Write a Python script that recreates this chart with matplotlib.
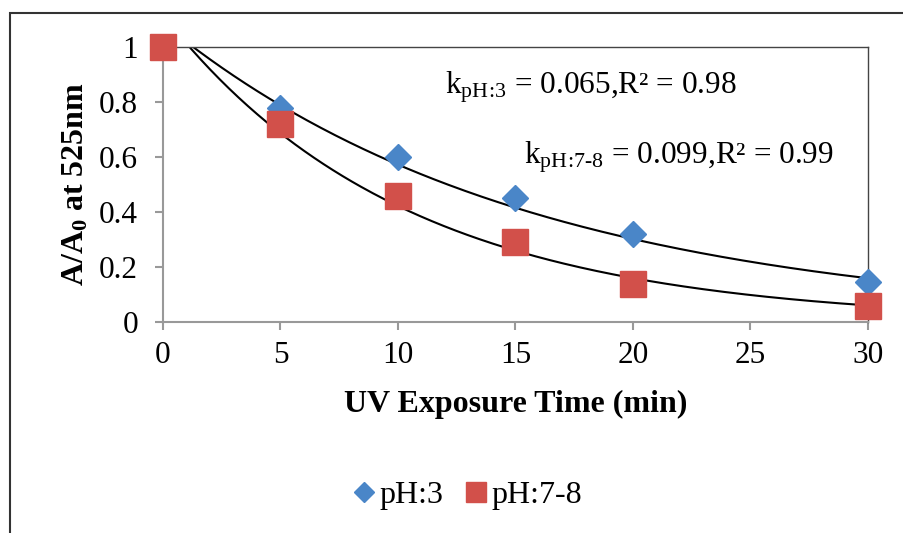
import numpy as np
import matplotlib
matplotlib.use("Agg")
from matplotlib import pyplot as plt
from matplotlib.patches import Rectangle
from matplotlib.ticker import FuncFormatter

plt.rcParams['font.family'] = ['Liberation Serif', 'DejaVu Serif']
plt.rcParams['mathtext.fontset'] = 'custom'
plt.rcParams['mathtext.rm'] = 'Liberation Serif'
plt.rcParams['mathtext.it'] = 'Liberation Serif:italic'
plt.rcParams['mathtext.bf'] = 'Liberation Serif:bold'

""" Data """
time_min = np.array([0, 5, 10, 15, 20, 30])
ph3 = np.array([1.0, 0.78, 0.60, 0.45, 0.32, 0.145])
ph78 = np.array([1.0, 0.72, 0.46, 0.29, 0.14, 0.06])

k_ph3, r2_ph3 = 0.065, 0.98
k_ph78, r2_ph78 = 0.099, 0.99


def exp_trend(x, y):
    """ excel style exponential trendline: linear fit of ln(y) """
    slope, intercept = np.polyfit(x, np.log(y), 1)
    xs = np.linspace(0, x.max(), 300)
    return xs, np.exp(intercept) * np.exp(slope * xs)


fig = plt.figure(figsize=(9.04, 5.33), dpi=100)
ax = fig.add_axes([163 / 904, 1 - 322 / 533, (868 - 163) / 904, (322 - 47) / 533])

# trend lines
for series in (ph3, ph78):
    xs, ys = exp_trend(time_min, series)
    ax.plot(xs, ys, color='black', lw=1.5, zorder=2)

ax.plot(time_min, ph3, ls='none', marker='D', ms=13, color='#4A86C8',
        label='pH:3', clip_on=False, zorder=3)
ax.plot(time_min, ph78, ls='none', marker='s', ms=19, color='#D2504A',
        label='pH:7-8', clip_on=False, zorder=4)

ax.set_xlim(0, 30)
ax.set_ylim(0, 1)
ax.set_xticks(np.arange(0, 31, 5))
ax.set_yticks(np.arange(0, 1.01, 0.2))
ax.yaxis.set_major_formatter(FuncFormatter(lambda v, p: f"{v:g}"))

for side in ('left', 'bottom'):
    ax.spines[side].set_color('#999999')
    ax.spines[side].set_linewidth(1.5)
for side in ('top', 'right'):
    ax.spines[side].set_color('#444444')
    ax.spines[side].set_linewidth(1.0)

ax.tick_params(axis='both', colors='#999999', labelcolor='black', width=1.5,
               length=6, labelsize=22.5, direction='out')
ax.tick_params(axis='y', pad=12)
ax.tick_params(axis='x', pad=8)

ax.set_xlabel('UV Exposure Time (min)', fontsize=23, fontweight='bold', labelpad=14)
ax.set_ylabel(r'A/A$_\mathbf{0}$ at 525nm', fontsize=23, fontweight='bold', labelpad=6)

ax.text(0.400, 0.855, r'k$_{\mathrm{pH\!:\!3}}$' + f' = {k_ph3},R² = {r2_ph3}',
        transform=ax.transAxes, fontsize=22.5, ha='left', va='center')
ax.text(0.512, 0.60, r'k$_{\mathrm{pH\!:\!7\text{-}8}}$' + f' = {k_ph78},R² = {r2_ph78}',
        transform=ax.transAxes, fontsize=22.5, ha='left', va='center')

fig.legend(loc='center', bbox_to_anchor=(465 / 904, 1 - 495 / 533), ncol=2,
           frameon=False, fontsize=23, markerscale=0.75, handletextpad=0.0,
           columnspacing=0.5, handlelength=1.0)

# outer chart border
fig.patches.append(Rectangle((10 / 904, -0.1), 1.2, 1 - 13 / 533 + 0.1,
                             transform=fig.transFigure, fill=False,
                             edgecolor='#333333', lw=1.5))

fig.savefig("out.png", dpi=100)
